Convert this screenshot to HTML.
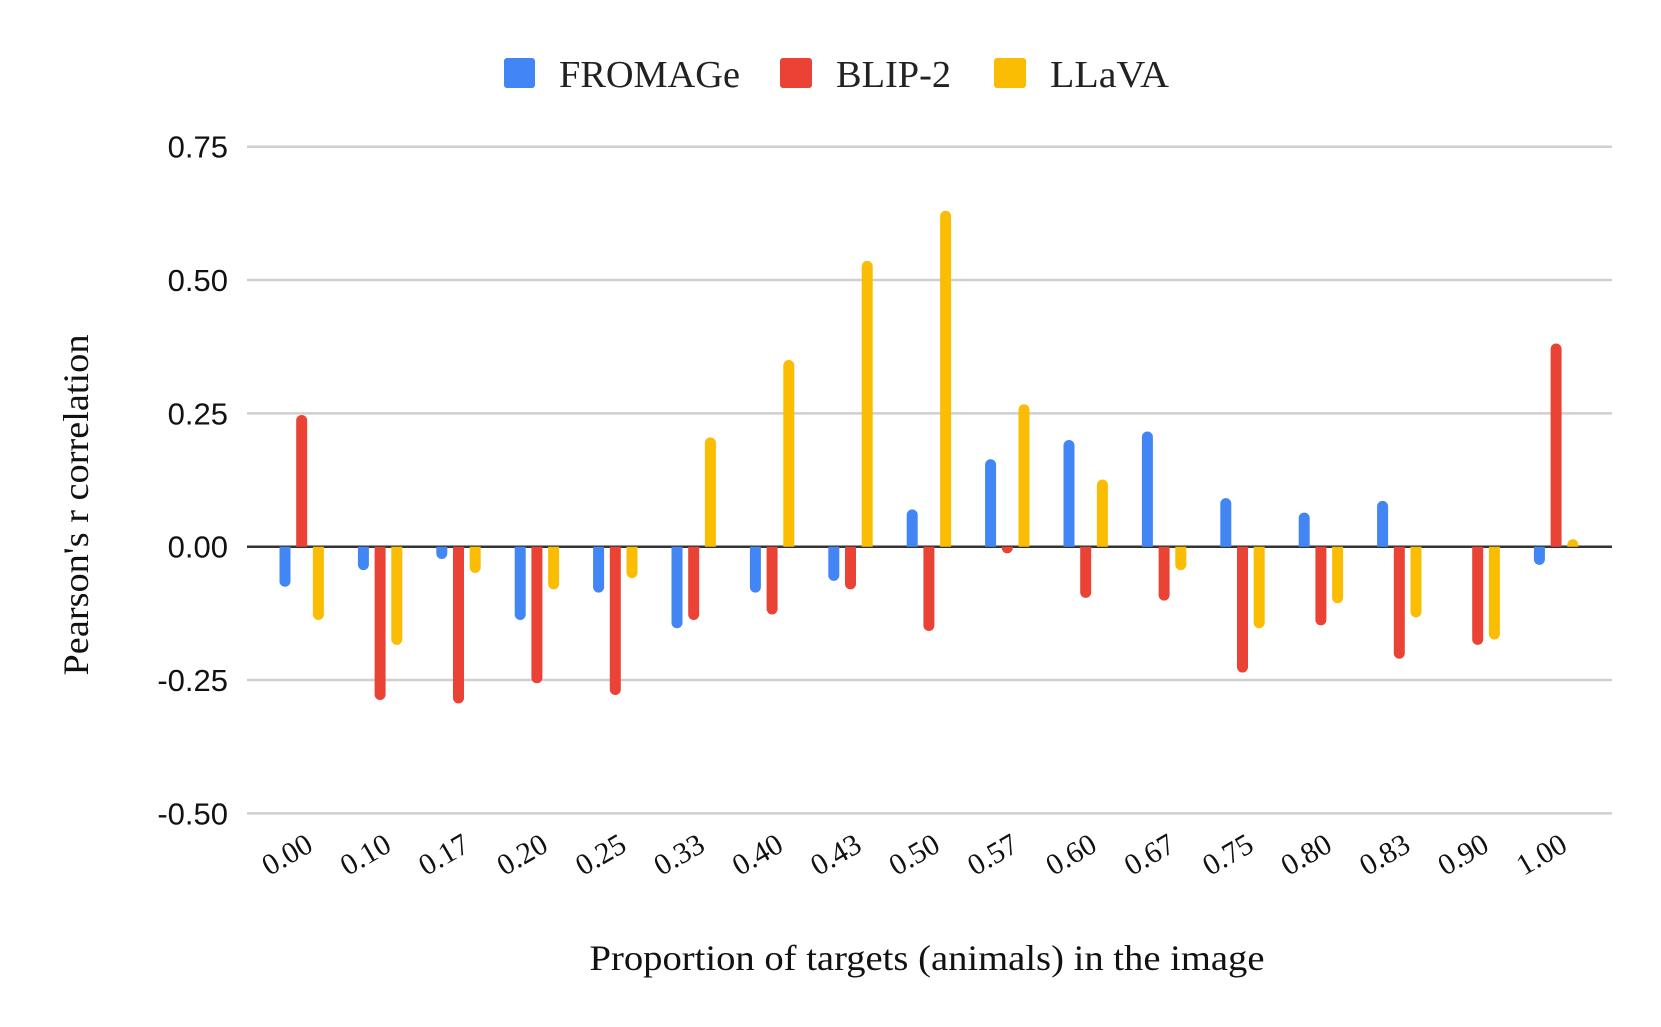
<!DOCTYPE html>
<html><head><meta charset="utf-8"><style>
html,body{margin:0;padding:0;background:#fff;}
svg{display:block;}
</style></head><body>
<svg id="chart" width="1661" height="1027" viewBox="0 0 1661 1027" xmlns="http://www.w3.org/2000/svg">
<g id="legend">
 <g>
  <rect x="504" y="58" width="31" height="30" rx="3" fill="#4285f4"/>
  <text x="559" y="87" font-family="Liberation Serif, serif" font-size="38" fill="#222" textLength="181" lengthAdjust="spacingAndGlyphs">FROMAGe</text>
 </g>
 <g>
  <rect x="780" y="58" width="32" height="30" rx="3" fill="#ea4335"/>
  <text x="836" y="87" font-family="Liberation Serif, serif" font-size="38" fill="#222" textLength="115" lengthAdjust="spacingAndGlyphs">BLIP-2</text>
 </g>
 <g>
  <rect x="994" y="58" width="32" height="30" rx="3" fill="#fbbc04"/>
  <text x="1050" y="87" font-family="Liberation Serif, serif" font-size="38" fill="#222" textLength="119" lengthAdjust="spacingAndGlyphs">LLaVA</text>
 </g>
</g>
<g id="grid"></g>
<g id="yticks"></g>
<line id="zero" stroke="#333" stroke-width="2.5"/>
<g id="bars"></g>
<g id="xticks"></g>
<text x="927" y="970" text-anchor="middle" font-family="Liberation Serif, serif" font-size="36" fill="#111" textLength="675" lengthAdjust="spacingAndGlyphs">Proportion of targets (animals) in the image</text>
<text transform="translate(88,505) rotate(-90)" text-anchor="middle" font-family="Liberation Serif, serif" font-size="36" fill="#111" textLength="341" lengthAdjust="spacingAndGlyphs">Pearson's r correlation</text>
</svg>
<script>
const categories = ["0.00","0.10","0.17","0.20","0.25","0.33","0.40","0.43","0.50","0.57","0.60","0.67","0.75","0.80","0.83","0.90","1.00"];
const fromage = [-0.075,-0.044,-0.023,-0.1375,-0.086,-0.153,-0.086,-0.064,0.07,0.164,0.2,0.216,0.091,0.064,0.086,0,-0.034];
const blip2 = [0.247,-0.2875,-0.294,-0.256,-0.278,-0.1375,-0.127,-0.08,-0.158,-0.0125,-0.096,-0.101,-0.236,-0.1475,-0.21,-0.184,0.381];
const llava = [-0.1375,-0.184,-0.049,-0.08,-0.059,0.205,0.35,0.536,0.63,0.267,0.126,-0.044,-0.153,-0.106,-0.1325,-0.174,0.014];
const yTicks = [0.75,0.5,0.25,0,-0.25,-0.5];
const yTickLabels = ["0.75","0.50","0.25","0.00","-0.25","-0.50"];

const NS = "http://www.w3.org/2000/svg";
const Y0 = 546.7, PX_PER_UNIT = 533.3;
function yScale(v){ return Y0 - v*PX_PER_UNIT; }
function xGroup(i){ return 301.7 + i*78.4; }
const seriesList = [
  {name:"fromage", vals:fromage, color:"#4285f4", off:-16.7},
  {name:"blip2", vals:blip2, color:"#ea4335", off:0},
  {name:"llava", vals:llava, color:"#fbbc04", off:16.7}
];
const grid = document.getElementById('grid');
const yt = document.getElementById('yticks');
yTicks.forEach((t,k)=>{
  const y = yScale(t);
  if (t !== 0) {
    const l = document.createElementNS(NS,'line');
    l.setAttribute('x1',247); l.setAttribute('x2',1612);
    l.setAttribute('y1',y); l.setAttribute('y2',y);
    l.setAttribute('stroke','#cfcfcf'); l.setAttribute('stroke-width','2.5');
    
    
    grid.appendChild(l);
  }
  const tx = document.createElementNS(NS,'text');
  tx.setAttribute('x',228); tx.setAttribute('y',y+11);
  tx.setAttribute('text-anchor','end');
  tx.setAttribute('font-family','Liberation Sans, Arial, sans-serif');
  tx.setAttribute('font-size','31'); tx.setAttribute('fill','#111');
  tx.textContent = yTickLabels[k];
  
  
  yt.appendChild(tx);
});
const z = document.getElementById('zero');
z.setAttribute('x1',247); z.setAttribute('x2',1612);
z.setAttribute('y1',yScale(0)); z.setAttribute('y2',yScale(0));

const bars = document.getElementById('bars');
const W = 11, R = 5.5;
categories.forEach((c,i)=>{
  seriesList.forEach(s=>{
    const v = s.vals[i];
    if (v === 0) return;
    const cx = xGroup(i)+s.off, x0 = cx-W/2, x1 = cx+W/2;
    const yz = yScale(0), yv = yScale(v);
    let d;
    if (v > 0) {
      const top = Math.min(yv+R, yz);
      d = `M${x0},${yz} L${x0},${top} A${R},${R} 0 0 1 ${x1},${top} L${x1},${yz} Z`;
    } else {
      const bot = Math.max(yv-R, yz);
      d = `M${x0},${yz} L${x0},${bot} A${R},${R} 0 0 0 ${x1},${bot} L${x1},${yz} Z`;
    }
    const p = document.createElementNS(NS,'path');
    p.setAttribute('d',d); p.setAttribute('fill',s.color);
    
    
    bars.appendChild(p);
  });
});
const xt = document.getElementById('xticks');
categories.forEach((c,i)=>{
  const x = xGroup(i)+13, y = 850;
  const tx = document.createElementNS(NS,'text');
  tx.setAttribute('transform',`translate(${x},${y}) rotate(-30)`);
  tx.setAttribute('text-anchor','end');
  tx.setAttribute('font-family','Liberation Serif, serif');
  tx.setAttribute('font-size','30'); tx.setAttribute('fill','#111');
  tx.textContent = c;
  
  
  xt.appendChild(tx);
});
</script>
</body></html>
